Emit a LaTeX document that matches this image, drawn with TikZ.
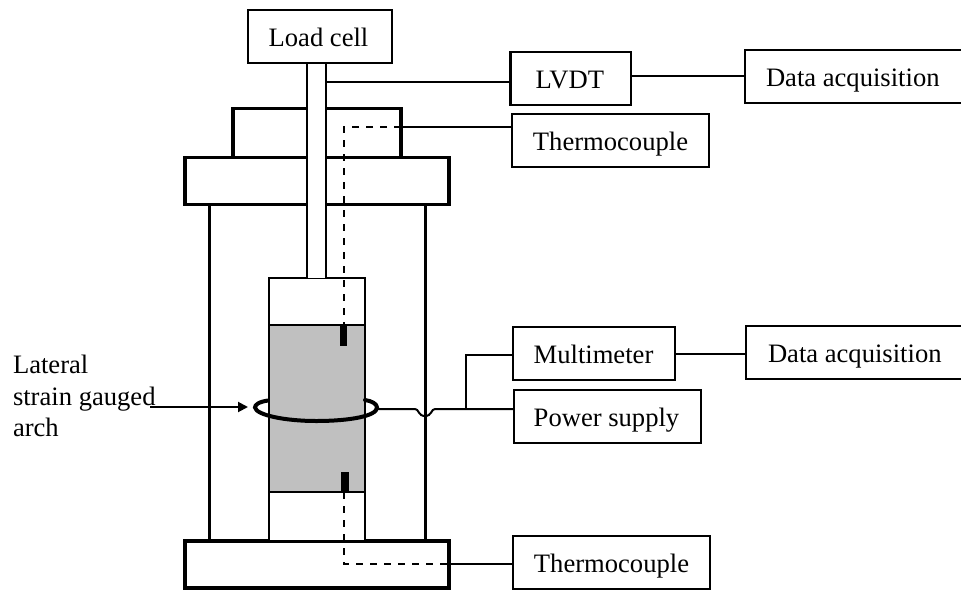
\documentclass[tikz,border=0pt]{standalone}
\usepackage{fontspec}
\setmainfont{Liberation Serif}
\usetikzlibrary{arrows.meta}
\tikzset{
  every node/.append style={outer sep=0pt},
  labelbox/.style={draw,line width=2.3pt,minimum width=#1,minimum height=53pt,inner sep=0pt,fill=white,font=\fontsize{26.6}{30}\selectfont,anchor=north west,text height=19pt,text depth=0pt},
  part/.style={draw,line width=3.2pt,fill=white,inner sep=0pt,anchor=north west},
  wire/.style={line width=2pt},
  dashwire/.style={line width=2pt,dash pattern=on 7pt off 7pt},
  plain/.style={font=\fontsize{26.6}{30}\selectfont,anchor=base west,inner sep=0pt}
}
\begin{document}
\begin{tikzpicture}[x=1pt,y=-1pt]
\useasboundingbox (0,0) rectangle (961,592);
% frame walls
\draw[line width=3pt] (209,204) -- (209,541);
\draw[line width=3pt] (425,204) -- (425,541);
% lateral arrow
\coordinate (arrowstart) at (150,407);
\coordinate (arrowend) at (248,407);
\draw[wire,-{Triangle[length=10pt,width=10pt]}] (arrowstart) -- (arrowend);
% heads
\node[part,minimum width=168pt,minimum height=49pt] (cap) at (233,108.5) {};
\node[part,minimum width=264pt,minimum height=47pt] (flange) at (185,157.5) {};
\node[part,minimum width=264pt,minimum height=47pt] (base) at (185,541) {};
% specimen
\node[draw,line width=2.3pt,fill=white,minimum width=96pt,minimum height=47pt,inner sep=0pt,anchor=north west] (upper) at (269,278) {};
\node[draw,line width=2.3pt,fill=white,minimum width=96pt,minimum height=49pt,inner sep=0pt,anchor=north west] (lower) at (269,492) {};
\node[draw,line width=2.3pt,fill={rgb,255:red,192;green,192;blue,192},minimum width=96pt,minimum height=167pt,inner sep=0pt,anchor=north west] (core) at (269,325) {};
% rod
\fill[white] (307,63) rectangle (326,278);
\draw[line width=2.3pt] (307,63) -- (307,278);
\draw[line width=2.3pt] (326,63) -- (326,278);
% sensors
\fill (340,326) rectangle (347,346);
\fill (341,472) rectangle (349,492);
% thermocouple wires
\coordinate (ttop) at (344,127);
\coordinate (tbot) at (344,564);
\draw[dashwire] (cap.east |- ttop) -- (ttop) -- (344,326);
\draw[dashwire] (344,492) -- (tbot) -- (base.east |- tbot);
% gauge ring
\draw[line width=4pt,line cap=round] (268,400.5) .. controls (258,402) and (255,405) .. (255,407.5) .. controls (256,415) and (285,421) .. (316,421) .. controls (350,421) and (377,416) .. (377,407.5) .. controls (377,404) and (372,401) .. (365,400);
% boxes
\node[labelbox=144pt] (load) at (248,10) {Load cell\hspace*{3pt}};
\node[labelbox=120.5pt] (lvdt) at (510.5,52) {LVDT\hspace*{2pt}};
\node[labelbox=197pt] (tc1) at (512,114) {Thermocouple};
\node[labelbox=230pt] (da1) at (745,50) {\makebox[230pt][l]{\hspace*{21pt}Data acquisition}};
\node[labelbox=162pt] (mm) at (513,327) {Multimeter\hspace*{1pt}};
\node[labelbox=230pt] (da2) at (746,326) {\makebox[230pt][l]{\hspace*{22pt}Data acquisition}};
\node[labelbox=187pt] (ps) at (514,390) {Power supply\hspace*{2pt}};
\node[labelbox=197pt] (tc2) at (513,536) {Thermocouple};
% connectors
\draw[wire] (326,82) -- (326,82 -| lvdt.west);
\draw[wire] (lvdt.east |- 0,76) -- (da1.west |- 0,76);
\draw[wire] (cap.east |- 0,126.5) -- (tc1.west |- 0,126.5);
\draw[wire] (mm.east |- 0,354) -- (da2.west |- 0,354);
\draw[wire] (base.east |- 0,563.5) -- (tc2.west |- 0,563.5);
\coordinate (ringr) at (378,409);
\coordinate (tee) at (466,409);
\draw[wire] (ringr) -- (415,409) .. controls (419,409) and (418,416) .. (425,416) .. controls (432,416) and (431,409) .. (435,409) -- (tee) -- (ps.west |- tee);
\draw[wire] (tee) -- (466,354.5) -- (mm.west |- 0,354.5);
% side label
\node[plain] (l1) at (13,373) {Lateral};
\node[plain] (l2) at (13,405) {strain gauged};
\node[plain] (l3) at (13,436) {arch};
\end{tikzpicture}
\end{document}
